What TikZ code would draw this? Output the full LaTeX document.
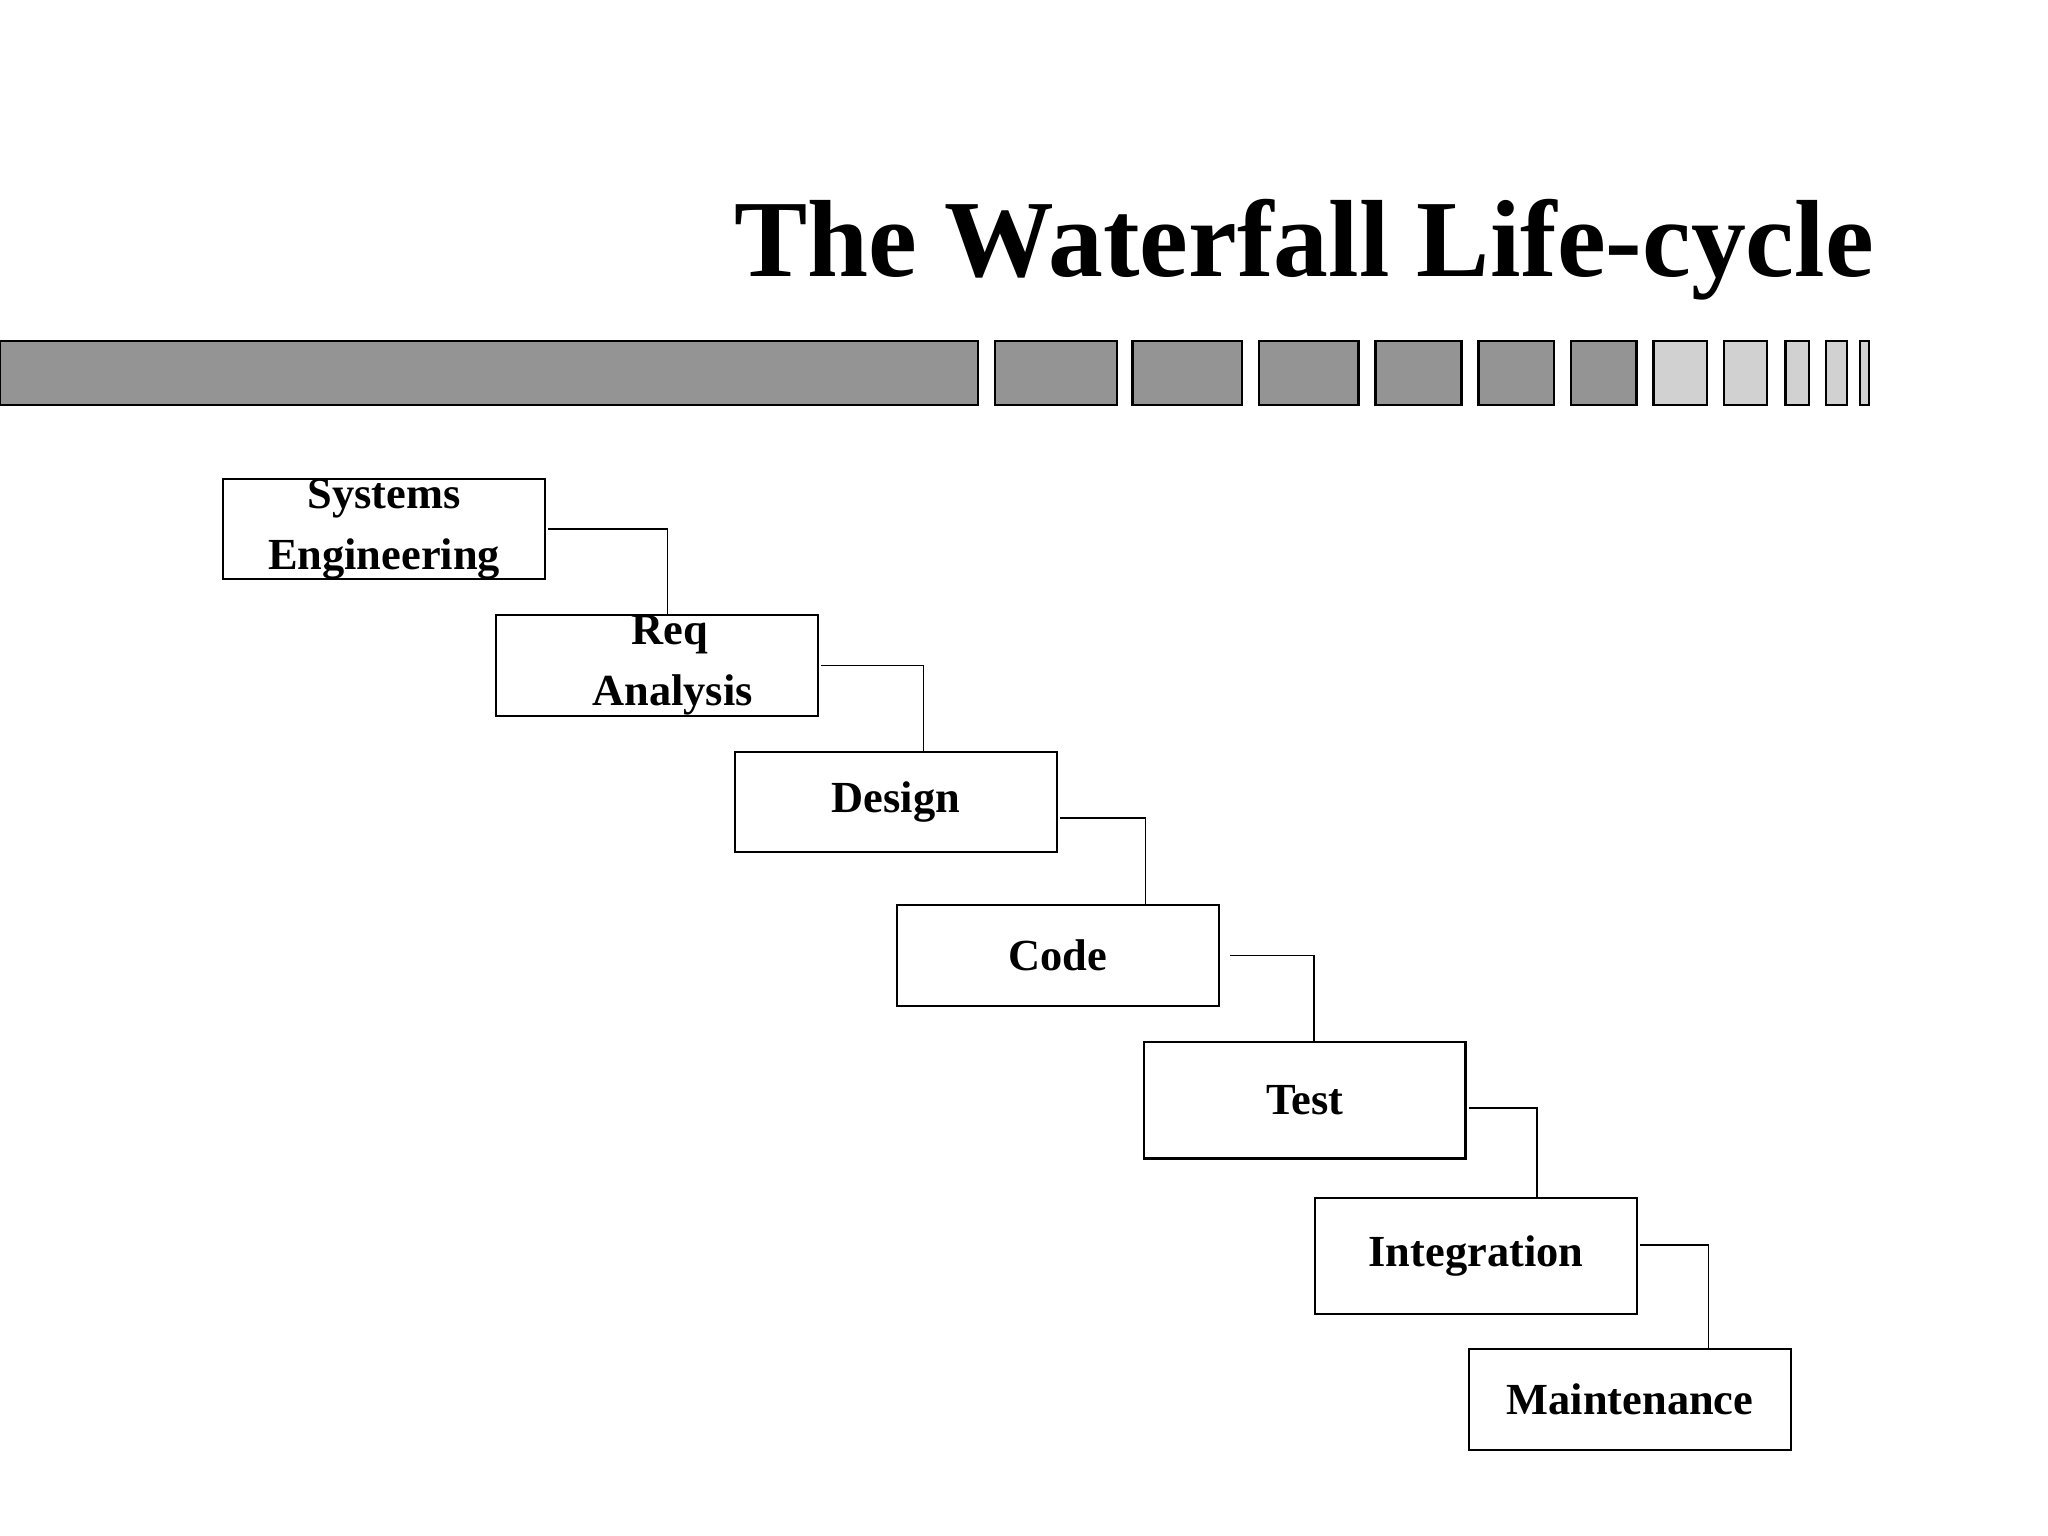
\documentclass[tikz,border=0pt]{standalone}
\usepackage{fontspec}
\setmainfont{Liberation Serif}
\begin{document}
\begin{tikzpicture}[x=0.5pt,y=-0.5pt,
  seg/.style={draw=black,line width=0.9pt,fill=#1},
  phase/.style={draw=black,line width=0.8pt,minimum width=123pt,inner sep=0pt,
    font=\fontsize{17}{23.5}\selectfont\bfseries,align=center},
  conn/.style={draw=black,line width=0.7pt}]
\useasboundingbox (0,0) rectangle (1568,1176);
\node[anchor=base east,font=\fontsize{42}{48}\selectfont\bfseries,inner sep=0pt] (title) at (1435,212) {The Waterfall Life-cycle};
\foreach \a/\b in {0/749,762/855,867/951,964/1040,1053/1119,1132/1190,1203/1253}
  \draw[seg=black!42] (\a,261) rectangle (\b,310);
\foreach \a/\b in {1266/1307,1320/1353,1367/1385,1398/1414,1424/1431}
  \draw[seg=black!18] (\a,261) rectangle (\b,310);
\node[phase,minimum height=38pt] (se) at (294,405) {Systems\\Engineering};
\node[phase,minimum height=38.5pt] (req) at (503,509.5) {\hspace*{10pt}Req\\\hspace*{12pt}Analysis};
\node[phase,minimum height=38pt] (des) at (686,614) {Design};
\node[phase,minimum height=38.5pt] (code) at (810,731.5) {Code};
\node[phase,minimum height=44.5pt] (test) at (999,842.5) {Test};
\node[phase,minimum height=44.5pt] (integ) at (1130,961.5) {Integration};
\node[phase,minimum height=38.5pt] (maint) at (1248,1071.5) {Maintenance};
\coordinate (c1) at (511,0);
\coordinate (c2) at (707,0);
\coordinate (c3) at (877,0);
\coordinate (c4) at (1006,0);
\coordinate (c5) at (1177,0);
\coordinate (c6) at (1308,0);
\draw[conn] ([xshift=1pt]se.east) -| (c1 |- req.north);
\draw[conn] ([xshift=1pt]req.east) -| (c2 |- des.north);
\draw[conn] ([xshift=1pt,yshift=-6pt]des.east) -| (c3 |- code.north);
\draw[conn] ([xshift=4pt]code.east) -| (c4 |- test.north);
\draw[conn] ([xshift=1pt,yshift=-3pt]test.east) -| (c5 |- integ.north);
\draw[conn] ([xshift=1pt,yshift=4pt]integ.east) -| (c6 |- maint.north);
\end{tikzpicture}
\end{document}
